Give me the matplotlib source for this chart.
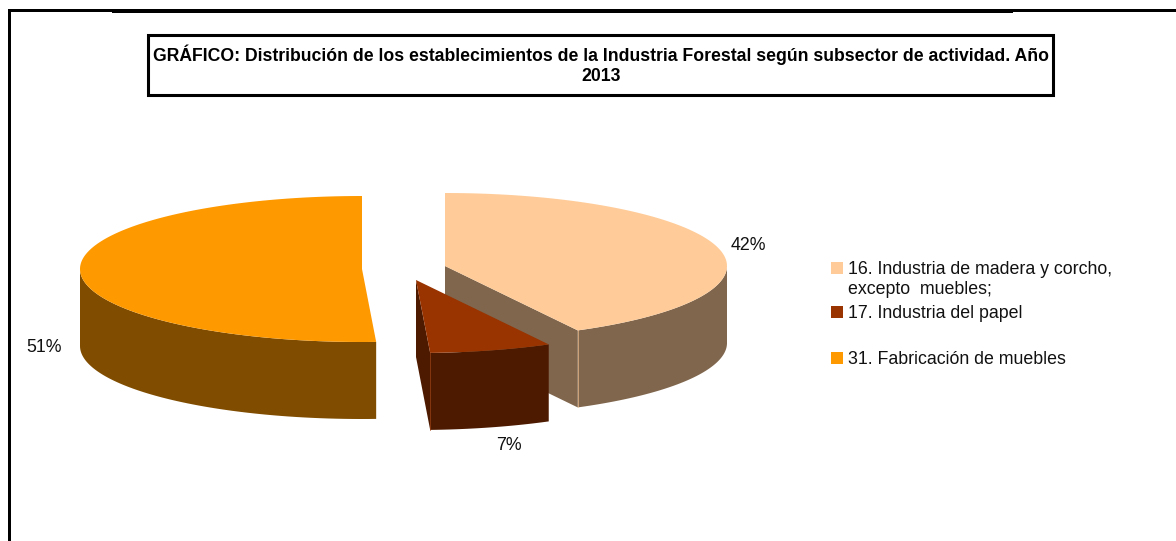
import numpy as np
import matplotlib
matplotlib.use('Agg')
from matplotlib import pyplot as plt
from matplotlib.patches import Rectangle

plt.rcParams['font.family'] = ['Liberation Sans', 'DejaVu Sans']

title = 'GRÁFICO: Distribución de los establecimientos de la Industria Forestal según subsector de actividad. Año\n2013'
categories = ['16. Industria de madera y corcho,\nexcepto  muebles;', '17. Industria del papel', '31. Fabricación de muebles']
values = [42.2, 7.0, 50.8]
pct_labels = ['42%', '7%', '51%']
top_colors = ['#FFCC99', '#993300', '#FF9900']
side_colors = ['#80664D', '#4D1A00', '#804D00']

# pie geometry in pixels of the picture
centers = [(445, 266), (416, 280), (362, 269)]
a, b, depth = 282, 73, 77
pct_pos = [(748, 246), (509, 445.5), (44, 347.5)]
legend_y = [268, 312, 358]

fig = plt.figure(figsize=(11.76, 5.41), dpi=100)
ax = fig.add_axes([0, 0, 1, 1])
ax.set_xlim(0, 1176)
ax.set_ylim(541, 0)
ax.axis('off')

# outer frame, top line is thicker in the middle
ax.add_patch(Rectangle((8, 9), 2.5, 532, color='black', lw=0))
ax.add_patch(Rectangle((8, 9), 1168, 2.5, color='black', lw=0))
ax.add_patch(Rectangle((112, 9), 901, 4, color='black', lw=0))

ax.add_patch(Rectangle((147.5, 34.5), 905, 60, fc='white', ec='black', lw=2.2))
ax.text(601, 65, title, ha='center', va='center', fontsize=12.7, fontweight='bold',
        color='black', linespacing=1.2)


def arc(cx, cy, t0, t1):
    t = np.radians(np.linspace(t0, t1, 200))
    return cx + a * np.sin(t), cy - b * np.cos(t)


starts = np.cumsum([0] + values[:-1]) * 3.6
ends = np.cumsum(values) * 3.6

for i in [0, 2, 1]:
    cx, cy = centers[i]
    t0, t1 = starts[i], ends[i]

    # outer wall, only the part that faces the viewer
    w0, w1 = max(t0, 90), min(t1, 270)
    if w1 > w0:
        x, y = arc(cx, cy, w0, w1)
        ax.fill(np.r_[x, x[::-1]], np.r_[y, y[::-1] + depth], color=side_colors[i], lw=0, zorder=i + 2)

    # cut face at the end of the slice
    if t1 < 180:
        ex, ey = arc(cx, cy, t1, t1)
        ax.fill([cx, ex[0], ex[0], cx], [cy, ey[0], ey[0] + depth, cy + depth],
                color=side_colors[i], lw=0, zorder=i + 2)
        ax.plot([ex[0], ex[0]], [ey[0], ey[0] + depth], color=top_colors[i], lw=0.6, alpha=0.7, zorder=i + 2)

    x, y = arc(cx, cy, t0, t1)
    ax.fill(np.r_[cx, x], np.r_[cy, y], color=top_colors[i], lw=0, zorder=i + 2)

for lab, (px, py) in zip(pct_labels, pct_pos):
    ax.text(px, py, lab, ha='center', va='center', fontsize=12.8, color='#111111')

for cat, col, ly in zip(categories, top_colors, legend_y):
    ax.add_patch(Rectangle((831, ly - 6), 12, 12, color=col, lw=0))
    ax.text(848, ly - 7, cat, ha='left', va='top', fontsize=12.8, color='#111111', linespacing=1.25)

fig.savefig('out.png', dpi=100)
